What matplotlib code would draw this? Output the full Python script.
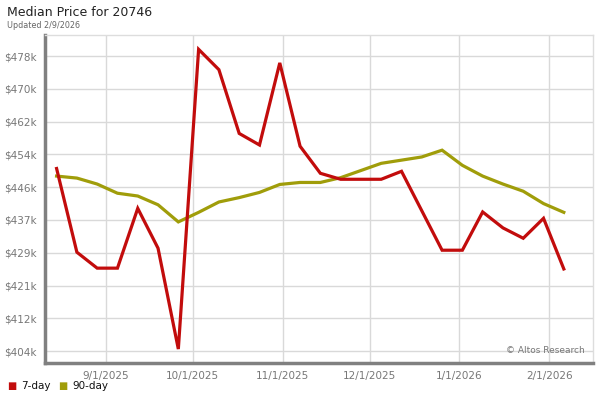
import matplotlib
matplotlib.use('Agg')
import matplotlib.pyplot as plt
import numpy as np
import datetime as dt

# Weekly median price (thousands of $)
start = dt.date(2025, 8, 15)
dates = [start + dt.timedelta(weeks=i) for i in range(26)]
seven_day = [449.8, 428.8, 424.8, 424.8, 439.8, 429.8, 404.5, 479.7, 474.6, 458.6,
             455.7, 476.3, 455.4, 448.6, 447.1, 447.1, 447.1, 449.1, 439.2, 429.3,
             429.3, 438.9, 434.9, 432.3, 437.3, 424.6]
ninety_day = [447.9, 447.4, 445.9, 443.6, 442.9, 440.7, 436.4, 438.8, 441.4, 442.5,
              443.8, 445.8, 446.3, 446.3, 447.5, 449.3, 451.1, 451.9, 452.7, 454.4,
              450.6, 447.9, 445.9, 444.1, 441.0, 438.8]

month_ticks = [dt.date(2025, 9, 1), dt.date(2025, 10, 1), dt.date(2025, 11, 1),
               dt.date(2025, 12, 1), dt.date(2026, 1, 1), dt.date(2026, 2, 1)]
month_labels = ['9/1/2025', '10/1/2025', '11/1/2025', '12/1/2025', '1/1/2026', '2/1/2026']
ytick_labels = ['$404k', '$412k', '$421k', '$429k', '$437k', '$446k',
                '$454k', '$462k', '$470k', '$478k']
yticks = np.linspace(404, 478, len(ytick_labels))

red = '#c20c0c'
olive = '#a09d0a'

fig = plt.figure(figsize=(6, 4), dpi=100)
ax = fig.add_axes([0.075, 0.0925, 0.913, 0.82])

ax.plot(dates, seven_day, color=red, lw=2.3, zorder=3, solid_joinstyle='miter')
ax.plot(dates, ninety_day, color=olive, lw=2.3, zorder=2, solid_joinstyle='miter')

ax.set_xlim(dt.date(2025, 8, 11), dt.date(2026, 2, 16))
ax.set_ylim(401.0, 483.3)
ax.set_xticks(month_ticks)
ax.set_xticklabels(month_labels)
ax.set_yticks(yticks)
ax.set_yticklabels(ytick_labels)
ax.tick_params(length=0, labelsize=7.5, colors='#777777', pad=6)
ax.grid(True, color='#d9d9d9', lw=1)
ax.set_axisbelow(True)

for s in ['top', 'right']:
    ax.spines[s].set_color('#dddddd')
    ax.spines[s].set_linewidth(1)
for s in ['left', 'bottom']:
    ax.spines[s].set_color('#808080')
    ax.spines[s].set_linewidth(2.5)

ax.text(0.985, 0.025, '\u00a9 Altos Research', transform=ax.transAxes,
        ha='right', va='bottom', fontsize=6.5, color='#777777')

fig.text(0.012, 0.968, 'Median Price for 20746', fontsize=9, color='#222222', va='center')
fig.text(0.012, 0.937, 'Updated 2/9/2026', fontsize=5.8, color='#666666', va='center')

# legend along the bottom
fig.text(0.012, 0.035, '\u25a0', color=red, fontsize=7, va='center')
fig.text(0.035, 0.035, '7-day', color='#111111', fontsize=7.5, va='center')
fig.text(0.097, 0.035, '\u25a0', color=olive, fontsize=7, va='center')
fig.text(0.120, 0.035, '90-day', color='#111111', fontsize=7.5, va='center')

plt.savefig('out.png', dpi=100)
